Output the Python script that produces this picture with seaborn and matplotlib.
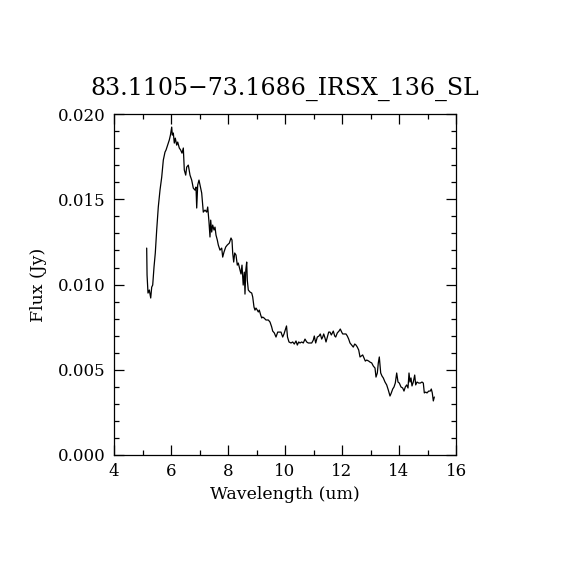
import matplotlib
matplotlib.use("Agg")
import matplotlib.pyplot as plt
import seaborn as sns
import pandas as pd
from matplotlib.ticker import MultipleLocator

title = "83.1105\u221273.1686_IRSX_136_SL"
xlabel = "Wavelength (um)"
ylabel = "Flux (Jy)"

wavelength = [
    5.147, 5.160, 5.193, 5.239, 5.288, 5.323, 5.358, 5.404, 5.449, 5.498,
    5.554, 5.614, 5.674, 5.730, 5.789, 5.825, 5.905, 5.940, 5.980, 6.025,
    6.046, 6.081, 6.116, 6.151, 6.200, 6.235, 6.291, 6.340, 6.386, 6.432,
    6.467, 6.516, 6.551, 6.607, 6.667, 6.726, 6.782, 6.842, 6.877, 6.902,
    6.937, 6.982, 7.018, 7.077, 7.133, 7.193, 7.253, 7.288, 7.333, 7.368,
    7.393, 7.428, 7.463, 7.509, 7.544, 7.579, 7.625, 7.660, 7.719, 7.779,
    7.814, 7.860, 7.919, 7.975, 8.046, 8.105, 8.140, 8.165, 8.200, 8.235,
    8.281, 8.326, 8.361, 8.421, 8.456, 8.491, 8.533, 8.572, 8.596, 8.625,
    8.656, 8.677, 8.712, 8.772, 8.832, 8.867, 8.912, 8.947, 8.982, 9.028,
    9.063, 9.098, 9.147, 9.182, 9.218, 9.263, 9.333, 9.414, 9.474, 9.533,
    9.568, 9.625, 9.684, 9.744, 9.800, 9.860, 9.919, 9.965, 10.018, 10.053,
    10.088, 10.140, 10.211, 10.270, 10.326, 10.386, 10.432, 10.481, 10.526, 10.586,
    10.642, 10.702, 10.761, 10.818, 10.877, 10.937, 10.993, 11.028, 11.077, 11.133,
    11.193, 11.239, 11.288, 11.323, 11.358, 11.404, 11.439, 11.484, 11.533, 11.579,
    11.625, 11.660, 11.695, 11.744, 11.779, 11.835, 11.895, 11.940, 11.989, 12.025,
    12.070, 12.140, 12.186, 12.235, 12.281, 12.340, 12.396, 12.446, 12.491, 12.537,
    12.586, 12.632, 12.677, 12.726, 12.772, 12.818, 12.867, 12.937, 12.982, 13.042,
    13.098, 13.158, 13.193, 13.239, 13.274, 13.309, 13.358, 13.404, 13.449, 13.509,
    13.568, 13.625, 13.684, 13.730, 13.779, 13.825, 13.870, 13.919, 13.965, 14.011,
    14.070, 14.130, 14.175, 14.221, 14.270, 14.316, 14.351, 14.386, 14.421, 14.456,
    14.502, 14.551, 14.586, 14.632, 14.691, 14.747, 14.807, 14.853, 14.888, 14.937,
    14.982, 15.042, 15.098, 15.133, 15.168, 15.204, 15.239,
]

flux = [
    0.01214, 0.01056, 0.00950, 0.00968, 0.00921, 0.00985, 0.00997, 0.01103, 0.01185, 0.01320,
    0.01455, 0.01554, 0.01630, 0.01730, 0.01777, 0.01789, 0.01830, 0.01848, 0.01877, 0.01924,
    0.01877, 0.01889, 0.01830, 0.01859, 0.01818, 0.01836, 0.01801, 0.01789, 0.01771, 0.01801,
    0.01672, 0.01642, 0.01689, 0.01701, 0.01642, 0.01613, 0.01566, 0.01554, 0.01572, 0.01449,
    0.01584, 0.01613, 0.01584, 0.01537, 0.01425, 0.01437, 0.01425, 0.01455, 0.01367, 0.01279,
    0.01378, 0.01308, 0.01349, 0.01320, 0.01337, 0.01290, 0.01261, 0.01232, 0.01202, 0.01214,
    0.01161, 0.01191, 0.01220, 0.01232, 0.01243, 0.01273, 0.01261, 0.01185, 0.01132, 0.01185,
    0.01173, 0.01114, 0.01126, 0.01085, 0.01062, 0.01114, 0.00997, 0.01073, 0.00944, 0.01085,
    0.01132, 0.01026, 0.00968, 0.00956, 0.00950, 0.00927, 0.00868, 0.00850, 0.00862, 0.00850,
    0.00839, 0.00850, 0.00821, 0.00804, 0.00809, 0.00804, 0.00792, 0.00792, 0.00780, 0.00751,
    0.00727, 0.00716, 0.00692, 0.00721, 0.00721, 0.00721, 0.00692, 0.00710, 0.00739, 0.00757,
    0.00692, 0.00663, 0.00657, 0.00663, 0.00651, 0.00669, 0.00645, 0.00663, 0.00657, 0.00663,
    0.00657, 0.00680, 0.00663, 0.00657, 0.00657, 0.00657, 0.00674, 0.00698, 0.00657, 0.00692,
    0.00698, 0.00710, 0.00680, 0.00692, 0.00710, 0.00686, 0.00663, 0.00692, 0.00721, 0.00721,
    0.00704, 0.00716, 0.00727, 0.00698, 0.00692, 0.00716, 0.00727, 0.00739, 0.00721, 0.00710,
    0.00710, 0.00710, 0.00698, 0.00680, 0.00657, 0.00645, 0.00633, 0.00651, 0.00645, 0.00633,
    0.00616, 0.00575, 0.00581, 0.00587, 0.00569, 0.00551, 0.00557, 0.00551, 0.00545, 0.00540,
    0.00522, 0.00510, 0.00457, 0.00481, 0.00540, 0.00575, 0.00481, 0.00463, 0.00452, 0.00428,
    0.00411, 0.00381, 0.00346, 0.00364, 0.00387, 0.00399, 0.00422, 0.00481, 0.00428, 0.00422,
    0.00399, 0.00393, 0.00375, 0.00399, 0.00411, 0.00393, 0.00481, 0.00428, 0.00452, 0.00405,
    0.00428, 0.00469, 0.00411, 0.00428, 0.00422, 0.00422, 0.00428, 0.00422, 0.00364, 0.00369,
    0.00364, 0.00375, 0.00375, 0.00387, 0.00364, 0.00317, 0.00340,
]

df = pd.DataFrame({"wavelength": wavelength, "flux": flux})

sns.set_style("ticks")
plt.rcParams["font.family"] = ["DejaVu Serif"]
plt.rcParams["mathtext.fontset"] = "dejavuserif"
plt.rcParams["text.color"] = "black"
plt.rcParams["axes.labelcolor"] = "black"
plt.rcParams["xtick.color"] = "black"
plt.rcParams["ytick.color"] = "black"

fig = plt.figure(figsize=(5.7, 5.7), dpi=100)
ax = fig.add_axes([0.2, 0.2018, 0.6, 0.598])

sns.lineplot(data=df, x="wavelength", y="flux", ax=ax, color="black",
             linewidth=0.9, estimator=None, sort=False)

ax.set_xlim(4, 16)
ax.set_ylim(0, 0.020)
ax.xaxis.set_major_locator(MultipleLocator(2))
ax.xaxis.set_minor_locator(MultipleLocator(1))
ax.yaxis.set_major_locator(MultipleLocator(0.005))
ax.yaxis.set_minor_locator(MultipleLocator(0.001))
ax.yaxis.set_major_formatter(matplotlib.ticker.FormatStrFormatter("%.3f"))

ax.tick_params(which="both", direction="in", top=True, right=True,
               color="black", labelcolor="black", width=0.9)
ax.tick_params(which="major", length=7, labelsize=12, pad=6)
ax.tick_params(which="minor", length=3.5)
for s in ax.spines.values():
    s.set_linewidth(0.9)
    s.set_color("black")

ax.set_xlabel(xlabel, fontsize=12.5, labelpad=4, color="black")
ax.set_ylabel(ylabel, fontsize=12.5, labelpad=8, color="black")
ax.set_title(title, fontsize=17, pad=14, color="black")

fig.savefig("out.png", dpi=100, facecolor="white")
